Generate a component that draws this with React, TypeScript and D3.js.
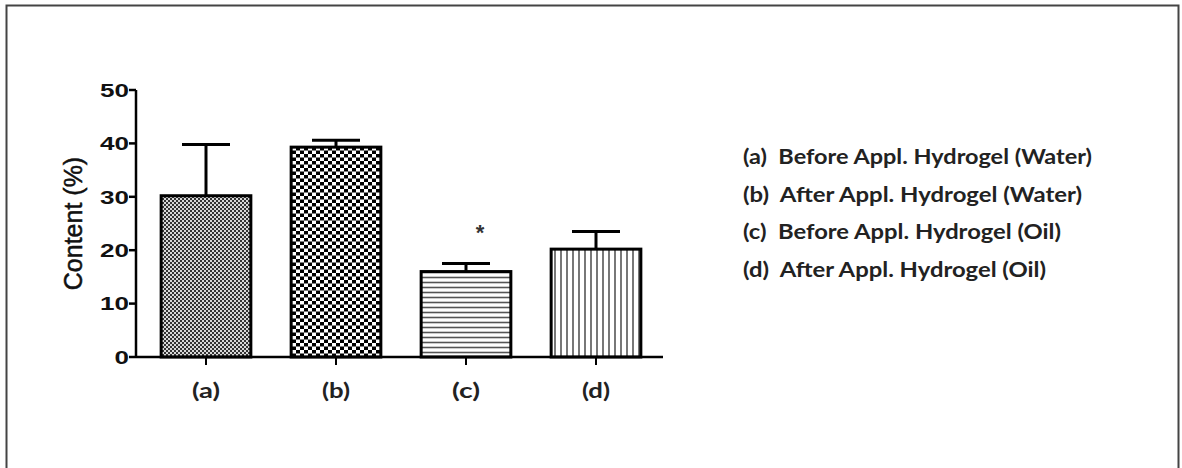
import React from "react";
import * as d3 from "d3";

const categories = ["(a)", "(b)", "(c)", "(d)"];
const means = [30.2, 39.3, 16.0, 20.2];
const errors = [9.6, 1.3, 1.5, 3.3];
const yTicks = [0, 10, 20, 30, 40, 50];
const legendLabels = [
  "(a)  Before Appl. Hydrogel (Water)",
  "(b)  After Appl. Hydrogel (Water)",
  "(c)  Before Appl. Hydrogel (Oil)",
  "(d)  After Appl. Hydrogel (Oil)",
];
const legendWidths = [349, 339, 318, 303];
const patterns = ["patA", "patB", "patC", "patD"];
const significance = ["", "", "*", ""];

export default function App() {
  const W = 1182, H = 468;
  const x0 = 136, x1 = 663;
  const y = d3.scaleLinear().domain([0, 50]).range([357, 90]);
  const x = d3.scaleBand<string>().domain(categories).range([141, 661]).paddingInner(0.31).paddingOuter(0.155);
  const bw = x.bandwidth();
  const capHalf = 24;
  return (
    <svg width={W} height={H} style={{ position: "absolute", left: 0, top: 0 }}>
      <defs>
        <pattern id="patA" width={4} height={4} patternUnits="userSpaceOnUse">
          <rect width={4} height={4} fill="#d8d8d8" />
          <rect x={0} y={0} width={2} height={2} fill="#333" />
          <rect x={2} y={2} width={2} height={2} fill="#333" />
        </pattern>
        <pattern id="patB" width={8} height={7} patternUnits="userSpaceOnUse">
          <rect width={8} height={7} fill="#fff" />
          <rect x={0} y={0} width={4} height={3.5} fill="#000" />
          <rect x={4} y={3.5} width={4} height={3.5} fill="#000" />
        </pattern>
        <pattern id="patC" width={8} height={5} patternUnits="userSpaceOnUse">
          <rect width={8} height={5} fill="#fff" />
          <line x1={0} x2={8} y1={2.5} y2={2.5} stroke="#555" strokeWidth={1.6} />
        </pattern>
        <pattern id="patD" width={6} height={8} patternUnits="userSpaceOnUse">
          <rect width={6} height={8} fill="#fff" />
          <line x1={3} x2={3} y1={0} y2={8} stroke="#555" strokeWidth={1.6} />
        </pattern>
      </defs>
      <rect width={W} height={H} fill="#fff" />
      <path d={`M6.5,${H} L6.5,5.5 L1178.5,5.5 L1178.5,${H}`} fill="none" stroke="#444" strokeWidth={2} />

      {/* bars */}
      {categories.map((c, i) => {
        const bx = x(c)!;
        const cx = bx + bw / 2;
        const top = y(means[i]);
        const et = y(means[i] + errors[i]);
        return (
          <g key={c}>
            <line x1={cx} x2={cx} y1={et} y2={top} stroke="#000" strokeWidth={3} />
            <line x1={cx - capHalf} x2={cx + capHalf} y1={et} y2={et} stroke="#000" strokeWidth={3} />
            <rect x={bx} y={top} width={bw} height={y(0) - top} fill={`url(#${patterns[i]})`} stroke="#000" strokeWidth={3} />
            {significance[i] && (
              <text x={cx + 14} y={et - 24} textAnchor="middle" fontFamily="'Liberation Sans', Arial, sans-serif" fontWeight="bold" fontSize={22} fill="#333">
                {significance[i]}
              </text>
            )}
            <line x1={cx} x2={cx} y1={y(0)} y2={y(0) + 8} stroke="#000" strokeWidth={2} />
            <text x={cx} y={398} textAnchor="middle" fontFamily="Lato, 'Open Sans', sans-serif" fontWeight="bold" fontSize={21} fill="#222" textLength={28} lengthAdjust="spacingAndGlyphs">
              {c}
            </text>
          </g>
        );
      })}

      {/* axes */}
      <line x1={x0} x2={x0} y1={y(50)} y2={y(0)} stroke="#000" strokeWidth={2.5} />
      <line x1={x0} x2={x1} y1={y(0)} y2={y(0)} stroke="#000" strokeWidth={2.5} />
      {yTicks.map((t) => (
        <g key={t}>
          <line x1={x0 - 7} x2={x0} y1={y(t)} y2={y(t)} stroke="#000" strokeWidth={2.5} />
          <text x={129 - 14.5 * String(t).length} y={y(t)} dy="0.36em" fontFamily="'Liberation Sans', Arial, sans-serif" fontWeight="bold" fontSize={19} fill="#111" textLength={14.5 * String(t).length} lengthAdjust="spacingAndGlyphs">
            {t}
          </text>
        </g>
      ))}
      <text transform={`translate(73,${(y(0) + y(50)) / 2}) rotate(-90)`} textAnchor="middle" dy="0.35em" fontFamily="'Liberation Sans', Arial, sans-serif" fontSize={25} fill="#111" stroke="#111" strokeWidth={0.5}>
        Content (%)
      </text>

      {/* legend */}
      {legendLabels.map((l, i) => (
        <text key={l} x={743} y={164 + i * 37.7} fontFamily="Lato, 'Open Sans', sans-serif" fontWeight="bold" fontSize={21} fill="#222" textLength={legendWidths[i]} lengthAdjust="spacingAndGlyphs" style={{ whiteSpace: "pre" }}>
          {l}
        </text>
      ))}
    </svg>
  );
}
